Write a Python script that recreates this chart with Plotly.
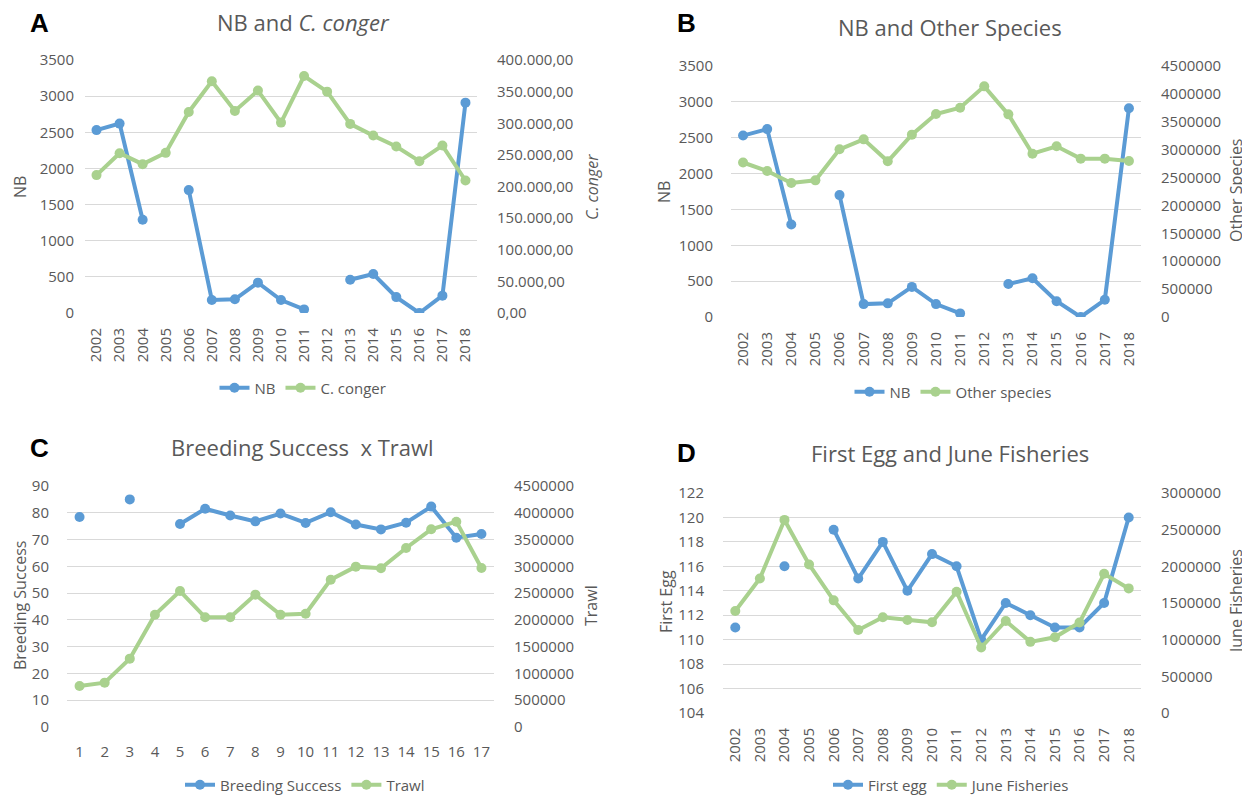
import plotly.graph_objects as go

# ---------------- data ----------------
years = [str(y) for y in range(2002, 2019)]
seq = [str(i) for i in range(1, 18)]

nb = [2530, 2620, 1290, None, 1700, 180, 190, 420, 180, 50, None, 460, 540, 220, 0, 240, 2910]
conger = [218000, 252600, 235300, 253200, 317900, 366300, 319500, 351600, 301000, 374700,
          350000, 299000, 280500, 263200, 240000, 264700, 209500]
other_species = [2770000, 2617000, 2402000, 2450000, 3006000, 3185000, 2791000, 3269000, 3640000,
                 3753000, 4135000, 3633000, 2928000, 3060000, 2839000, 2839000, 2797000]
breeding_success = [78.4, None, 85.0, None, 75.8, 81.5, 79.0, 76.8, 79.7, 76.2, 80.2, 75.6, 73.8,
                    76.3, 82.3, 70.7, 72.1]
trawl = [766000, 828000, 1276000, 2097000, 2539000, 2048000, 2048000, 2471000, 2097000, 2116000,
         2751000, 2994000, 2963000, 3342000, 3691000, 3834000, 2969000]
first_egg = [111, None, 116, None, 119, 115, 118, 114, 117, 116, 110, 113, 112, 111, 111, 113, 120]
june_fisheries = [1391000, 1835000, 2633000, 2026000, 1536000, 1133000, 1305000, 1269000, 1237000,
                  1654000, 893000, 1255000, 970000, 1033000, 1233000, 1899000, 1699000]

nb_ticks = [0, 500, 1000, 1500, 2000, 2500, 3000, 3500]
conger_ticks = [0, 50000, 100000, 150000, 200000, 250000, 300000, 350000, 400000]
conger_ticktext = ["0,00", "50.000,00", "100.000,00", "150.000,00", "200.000,00",
                   "250.000,00", "300.000,00", "350.000,00", "400.000,00"]
big_ticks = [0, 500000, 1000000, 1500000, 2000000, 2500000, 3000000, 3500000, 4000000, 4500000]
bs_ticks = [0, 10, 20, 30, 40, 50, 60, 70, 80, 90]
egg_ticks = [104, 106, 108, 110, 112, 114, 116, 118, 120, 122]
june_ticks = [0, 500000, 1000000, 1500000, 2000000, 2500000, 3000000]

# ---------------- styling ----------------
OFF = 8                      # page body margin of the browser
W, H = 1250 - OFF, 798 - OFF
BLUE = "#5B9BD5"
GREEN = "#A9D18E"
GRID = "#D9D9D9"
TXT = "#595959"
FONT = "Open Sans"


def px_x(a):
    return (a - OFF) / W


def px_y(b):
    return 1 - (b - OFF) / H


def dx(a, b):
    return [px_x(a), px_x(b)]


def dy(top, bottom):
    return [px_y(bottom), px_y(top)]


fig = go.Figure()


def add_series(x, y, name, color, xa, ya, leg):
    fig.add_trace(go.Scatter(
        x=x, y=y, name=name, mode="lines+markers",
        line=dict(color=color, width=4),
        marker=dict(color=color, size=10),
        xaxis=xa, yaxis=ya, legend=leg, connectgaps=False))


add_series(years, nb, "NB", BLUE, "x", "y", "legend")
add_series(years, conger, "C. conger", GREEN, "x", "y2", "legend")
add_series(years, nb, "NB", BLUE, "x2", "y3", "legend2")
add_series(years, other_species, "Other species", GREEN, "x2", "y4", "legend2")
add_series(seq, breeding_success, "Breeding Success", BLUE, "x3", "y5", "legend3")
add_series(seq, trawl, "Trawl", GREEN, "x3", "y6", "legend3")
add_series(years, first_egg, "First egg", BLUE, "x4", "y7", "legend4")
add_series(years, june_fisheries, "June Fisheries", GREEN, "x4", "y8", "legend4")

tickfont = dict(family=FONT, size=15, color=TXT)

panels = [
    dict(x=(85, 477), y=(60, 313), lt=nb_ticks, lr=[0, 3500], rt=conger_ticks, rtt=conger_ticktext,
         rr=[0, 400000], rot=True, ls=7),
    dict(x=(731, 1141), y=(66, 317), lt=nb_ticks, lr=[0, 3500], rt=big_ticks, rtt=None,
         rr=[0, 4500000], rot=True, ls=14),
    dict(x=(67, 494), y=(486, 727), lt=bs_ticks, lr=[0, 90], rt=big_ticks, rtt=None,
         rr=[0, 4500000], rot=False, ls=14),
    dict(x=(723, 1141), y=(493, 713), lt=egg_ticks, lr=[104, 122], rt=june_ticks, rtt=None,
         rr=[0, 3000000], rot=True, ls=15),
]

layout = dict(
    width=W, height=H, margin=dict(l=0, r=0, t=0, b=0, autoexpand=False),
    paper_bgcolor="white", plot_bgcolor="white",
    font=dict(family=FONT, color=TXT, size=15),
    showlegend=True,
)

for i, p in enumerate(panels, start=1):
    xk = "xaxis" if i == 1 else f"xaxis{i}"
    ylk = "yaxis" if i == 1 else f"yaxis{2 * i - 1}"
    yrk = f"yaxis{2 * i}"
    xname = "x" if i == 1 else f"x{i}"
    yl_name = "y" if i == 1 else f"y{2 * i - 1}"
    layout[xk] = dict(
        domain=dx(*p["x"]), anchor=yl_name, type="category",
        range=[-0.5, 16.5], showgrid=False, zeroline=False, automargin=False,
        showline=False, ticks="outside", ticklen=8 if p["rot"] else 11,
        tickcolor="rgba(0,0,0,0)", tickangle=-90 if p["rot"] else 0,
        tickfont=tickfont, fixedrange=True)
    layout[ylk] = dict(
        domain=dy(*p["y"]), anchor=xname, range=p["lr"], tickvals=p["lt"],
        showgrid=True, gridcolor=GRID, gridwidth=1.3, zeroline=False, showline=False,
        automargin=False,
        ticks="outside", ticklen=p["ls"], tickcolor="rgba(0,0,0,0)",
        tickfont=tickfont, fixedrange=True)
    right = dict(
        overlaying=yl_name, side="right", anchor=xname, range=p["rr"], tickvals=p["rt"],
        showgrid=False, zeroline=False, showline=False, automargin=False,
        ticks="outside", ticklen=16, tickcolor="rgba(0,0,0,0)",
        tickfont=tickfont, fixedrange=True)
    if p["rtt"] is not None:
        right["ticktext"] = p["rtt"]
    else:
        right["tickformat"] = "d"
    layout[yrk] = right

# legends
leg_common = dict(orientation="h", xanchor="center", yanchor="middle",
                  bgcolor="rgba(0,0,0,0)", font=dict(family=FONT, size=15, color=TXT),
                  itemwidth=30, tracegroupgap=0)
layout["legend"] = dict(leg_common, x=px_x(303), y=px_y(388))
layout["legend2"] = dict(leg_common, x=px_x(953), y=px_y(392))
layout["legend3"] = dict(leg_common, x=px_x(305), y=px_y(785))
layout["legend4"] = dict(leg_common, x=px_x(952), y=px_y(785))

fig.update_layout(**layout)

ann = []


def text(x, y, s, size=16, angle=0, family=FONT, color=TXT):
    ann.append(dict(x=px_x(x), y=px_y(y), xref="paper", yref="paper", text=s,
                    showarrow=False, textangle=angle, xanchor="center", yanchor="middle",
                    font=dict(family=family, size=size, color=color)))


# titles
text(303, 22, "NB and <i>C. conger</i>", size=22)
text(950, 27, "NB and Other Species", size=22)
text(302, 447, "Breeding Success  x Trawl", size=22)
text(950, 453, "First Egg and June Fisheries", size=22)

# panel letters
for lx, ly, s in [(39, 23, "A"), (686, 23, "B"), (39, 448, "C"), (686, 453, "D")]:
    text(lx, ly, "<b>" + s + "</b>", size=26, family="Liberation Sans", color="black")

# axis titles
text(20, 187, "NB", angle=-90)
text(592, 187, "<i>C. conger</i>", angle=-90)
text(664, 192, "NB", angle=-90)
text(1236, 190, "Other Species", angle=-90)
text(20, 606, "Breeding Success", angle=-90)
text(591, 606, "Trawl", angle=-90)
text(666, 602, "First Egg", angle=-90)
text(1236, 602, "June Fisheries", angle=-90)

fig.update_layout(annotations=ann)

fig.write_html("out.html")
